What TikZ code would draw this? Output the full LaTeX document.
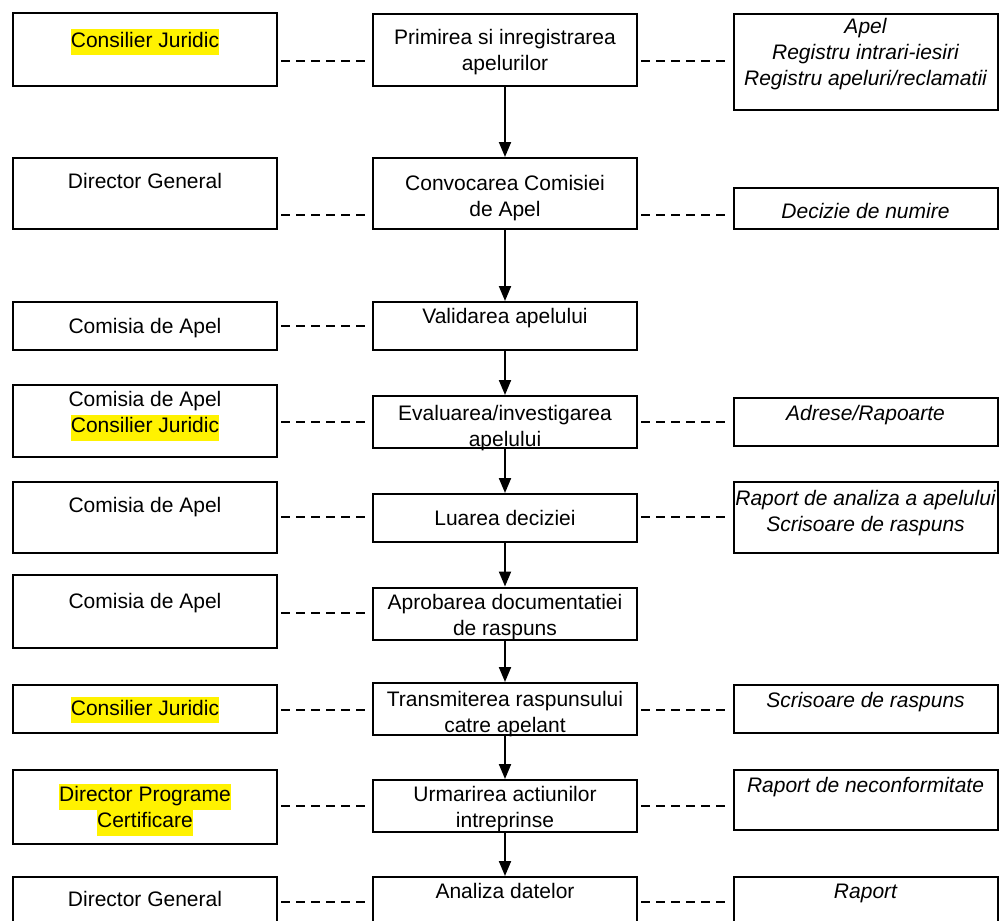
\documentclass[tikz,border=0pt]{standalone}
\usepackage{fontspec}
\setmainfont{Liberation Sans}
\usepackage{xcolor}
\usetikzlibrary{arrows.meta}
\tikzset{
  flow/.style={x=0.5pt, y=-0.5pt, every node/.style={draw, rectangle, line width=1pt, minimum width=132pt, inner xsep=0pt, inner ysep=0pt, font=\fontsize{10.5}{13}\selectfont}},
  doc/.style={font=\fontsize{10.5}{13}\selectfont\itshape},
  flowarrow/.style={-{Triangle[width=6pt,length=7.5pt]}, line width=1pt},
  link/.style={line width=0.9pt, dash pattern=on 4.5pt off 3pt, shorten <=1.5pt, shorten >=1.5pt}
}
\newcommand{\hilite}[1]{{\fboxsep=0pt\colorbox{yellow}{\strut #1}}}
\newcommand{\boxtext}[2][0pt]{\raisebox{#1}[\height][\depth]{\begin{tabular}{@{}c@{}}#2\end{tabular}}}

\begin{document}
\begin{tikzpicture}[flow]
\useasboundingbox (0,0) rectangle (1000,920);
% who / step / documents, row by row
\node[minimum height=36.5pt] (l1) at (145,49.5) {\boxtext[3.75pt]{\hilite{Consilier Juridic}}};
\node[minimum height=36pt] (c1) at (505,50) {\boxtext[-1pt]{Primirea si inregistrarea\\apelurilor}};
\node[doc, minimum height=48pt] (r1) at (865.5,62) {\boxtext[4pt]{Apel\\Registru intrari-iesiri\\Registru apeluri/reclamatii}};

\node[minimum height=35.5pt] (l2) at (145,193.5) {\boxtext[5.25pt]{Director General}};
\node[minimum height=35.5pt] (c2) at (505,193.5) {\boxtext[-2.5pt]{Convocarea Comisiei\\de Apel}};
\node[doc, minimum height=20.5pt] (r2) at (865.5,208.5) {\boxtext[-2.25pt]{Decizie de numire}};

\node[minimum height=24pt] (l3) at (145,326) {\boxtext[-1pt]{Comisia de Apel}};
\node[minimum height=24pt] (c3) at (505,326) {\boxtext[4pt]{Validarea apelului}};

\node[minimum height=36pt] (l4) at (145,421) {\boxtext[3.25pt]{Comisia de Apel\\\hilite{Consilier Juridic}}};
\node[minimum height=24pt] (c4) at (505,422) {\boxtext[-3pt]{Evaluarea/investigarea\\apelului}};
\node[doc, minimum height=24pt] (r4) at (865.5,422) {\boxtext[3.5pt]{Adrese/Rapoarte}};

\node[minimum height=35.5pt] (l5) at (145,517.5) {\boxtext[5.25pt]{Comisia de Apel}};
\node[minimum height=24pt] (c5) at (505,518) {\boxtext[-1pt]{Luarea deciziei}};
\node[doc, minimum height=35.5pt] (r5) at (865.5,517.5) {\boxtext[2.25pt]{Raport de analiza a apelului\\Scrisoare de raspuns}};

\node[minimum height=36.5pt] (l6) at (145,611.5) {\boxtext[4.25pt]{Comisia de Apel}};
\node[minimum height=24.5pt] (c6) at (505,613.5) {\boxtext[-2pt]{Aprobarea documentatiei\\de raspuns}};

\node[minimum height=24pt] (l7) at (145,709) {\boxtext[-0.5pt]{\hilite{Consilier Juridic}}};
\node[minimum height=24pt] (c7) at (505,709) {\boxtext[-2.75pt]{Transmiterea raspunsului\\catre apelant}};
\node[doc, minimum height=24pt] (r7) at (865.5,709) {\boxtext[3.5pt]{Scrisoare de raspuns}};

\node[minimum height=37pt] (l8) at (145,807) {\boxtext[-1.25pt]{\hilite{Director Programe}\\\hilite{Certificare}}};
\node[minimum height=24pt] (c8) at (505,806) {\boxtext[-1.75pt]{Urmarirea actiunilor\\intreprinse}};
\node[doc, minimum height=30pt] (r8) at (865.5,800) {\boxtext[6.5pt]{Raport de neconformitate}};

\node[minimum height=24pt] (l9) at (145,901) {\boxtext{Director General}};
\node[minimum height=24pt] (c9) at (505,901) {\boxtext[4pt]{Analiza datelor}};
\node[doc, minimum height=24pt] (r9) at (865.5,901) {\boxtext[4pt]{Raport}};

% flow of the steps
\draw[flowarrow] (c1) -- (c2); \draw[flowarrow] (c2) -- (c3); \draw[flowarrow] (c3) -- (c4); \draw[flowarrow] (c4) -- (c5);
\draw[flowarrow] (c5) -- (c6); \draw[flowarrow] (c6) -- (c7); \draw[flowarrow] (c7) -- (c8); \draw[flowarrow] (c8) -- (c9);

% dashed ties
\coordinate (y1) at (0,61); \coordinate (y2) at (0,215); \coordinate (y3) at (0,326);
\coordinate (y4) at (0,422); \coordinate (y5) at (0,517); \coordinate (y6) at (0,613);
\coordinate (y7) at (0,710); \coordinate (y8) at (0,806); \coordinate (y9) at (0,902);
\draw[link] (l1.east |- y1) -- (c1.west |- y1); \draw[link] (c1.east |- y1) -- (r1.west |- y1);
\draw[link] (l2.east |- y2) -- (c2.west |- y2); \draw[link] (c2.east |- y2) -- (r2.west |- y2);
\draw[link] (l3.east |- y3) -- (c3.west |- y3);
\draw[link] (l4.east |- y4) -- (c4.west |- y4); \draw[link] (c4.east |- y4) -- (r4.west |- y4);
\draw[link] (l5.east |- y5) -- (c5.west |- y5); \draw[link] (c5.east |- y5) -- (r5.west |- y5);
\draw[link] (l6.east |- y6) -- (c6.west |- y6);
\draw[link] (l7.east |- y7) -- (c7.west |- y7); \draw[link] (c7.east |- y7) -- (r7.west |- y7);
\draw[link] (l8.east |- y8) -- (c8.west |- y8); \draw[link] (c8.east |- y8) -- (r8.west |- y8);
\draw[link] (l9.east |- y9) -- (c9.west |- y9); \draw[link] (c9.east |- y9) -- (r9.west |- y9);
\end{tikzpicture}
\end{document}
